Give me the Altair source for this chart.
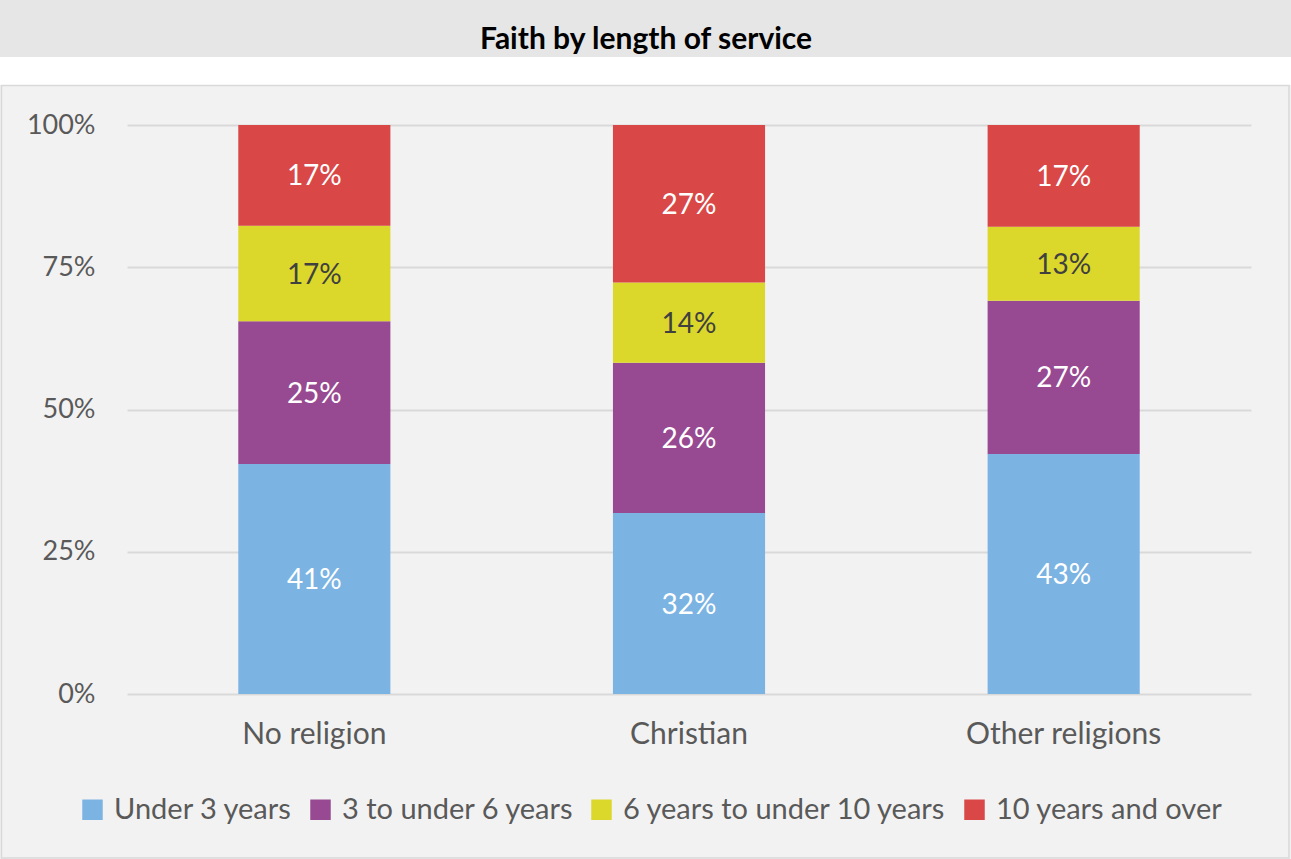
import altair as alt
import pandas as pd

categories = ["No religion", "Christian", "Other religions"]
series = ["Under 3 years", "3 to under 6 years", "6 years to under 10 years", "10 years and over"]
colors = ["#7BB3E3", "#974A91", "#DCD72B", "#D94747"]
text_colors = ["#FFFFFF", "#FFFFFF", "#404040", "#FFFFFF"]

under_3 = [40.4, 31.8, 42.2]
from_3_to_6 = [25.1, 26.4, 26.9]
from_6_to_10 = [16.8, 14.1, 13.0]
over_10 = [17.7, 27.7, 17.9]

label_under_3 = ["41%", "32%", "43%"]
label_3_to_6 = ["25%", "26%", "27%"]
label_6_to_10 = ["17%", "14%", "13%"]
label_over_10 = ["17%", "27%", "17%"]

series_values = [under_3, from_3_to_6, from_6_to_10, over_10]
series_labels = [label_under_3, label_3_to_6, label_6_to_10, label_over_10]

rows = []
for ci, cat in enumerate(categories):
    total = sum(v[ci] for v in series_values)
    base = 0.0
    for si, s in enumerate(series):
        share = series_values[si][ci] / total
        rows.append({
            "category": cat,
            "series": s,
            "order": si,
            "y0": base,
            "y1": base + share,
            "mid": base + share / 2,
            "label": series_labels[si][ci],
            "tcolor": text_colors[si],
        })
        base += share
df = pd.DataFrame(rows)

FONT = "Lato"
W, H = 1124, 569
LEFT, TOP = 127, 125

one = pd.DataFrame({"a": [0]})

white_band = alt.Chart(one).mark_rect(fill="#FFFFFF").encode(
    x=alt.value(-LEFT), x2=alt.value(1291 - LEFT),
    y=alt.value(-TOP), y2=alt.value(85 - TOP),
)
title_band = alt.Chart(one).mark_rect(fill="#E6E6E6").encode(
    x=alt.value(-LEFT), x2=alt.value(1291 - LEFT),
    y=alt.value(-TOP), y2=alt.value(57 - TOP),
)
title_text = alt.Chart(one).mark_text(
    text="Faith by length of service", font=FONT, fontSize=30, fontWeight="bold",
    color="#000000", align="center", baseline="middle",
).encode(x=alt.value(646 - LEFT), y=alt.value(40 - TOP))

border = alt.Chart(one).mark_rect(fill=None, stroke="#D9D9D9", strokeWidth=1.5).encode(
    x=alt.value(1.5 - LEFT), x2=alt.value(1289 - LEFT),
    y=alt.value(85.5 - TOP), y2=alt.value(858 - TOP),
)

x_enc = alt.X(
    "category:N", sort=categories,
    scale=alt.Scale(paddingInner=0.594, paddingOuter=0.297),
    axis=alt.Axis(title=None, labelAngle=0, domain=False, ticks=False,
                  labelFont=FONT, labelFontSize=30, labelColor="#595959",
                  labelPadding=25, labelLimit=0, grid=False),
)

bars = alt.Chart(df).mark_bar().encode(
    x=x_enc,
    y=alt.Y("y0:Q", scale=alt.Scale(domain=[0, 1], nice=False),
            axis=alt.Axis(title=None, values=[0, 0.25, 0.5, 0.75, 1], format=".0%",
                          domain=False, ticks=False, grid=True, gridColor="#D9D9D9",
                          gridWidth=2, labelFont=FONT, labelFontSize=27,
                          labelColor="#595959", labelPadding=32)),
    y2="y1:Q",
    color=alt.Color("series:N", sort=series,
                    scale=alt.Scale(domain=series, range=colors),
                    legend=alt.Legend(title=None, orient="none", direction="horizontal",
                                      legendX=-49, legendY=670,
                                      symbolType="square", symbolSize=420,
                                      symbolStrokeWidth=0, labelFont=FONT,
                                      labelFontSize=29, labelColor="#595959",
                                      labelOffset=7, columnPadding=13,
                                      labelLimit=0)),
    order=alt.Order("order:Q"),
)

texts = alt.Chart(df).mark_text(font=FONT, fontSize=28, baseline="middle", align="center", dy=2).encode(
    x=alt.X("category:N", sort=categories),
    y=alt.Y("mid:Q"),
    text="label:N",
    color=alt.Color("tcolor:N", scale=None),
)

chart = alt.layer(white_band, title_band, title_text, bars, texts, border).properties(
    width=W, height=H,
    padding={"left": LEFT, "top": TOP, "right": 1291 - LEFT - W, "bottom": 859 - TOP - H},
    autosize=alt.AutoSizeParams(type="none"),
    background="#F2F2F2",
).configure_view(stroke=None)

chart.save("out.html", embed_options={"renderer": "svg", "actions": False})
